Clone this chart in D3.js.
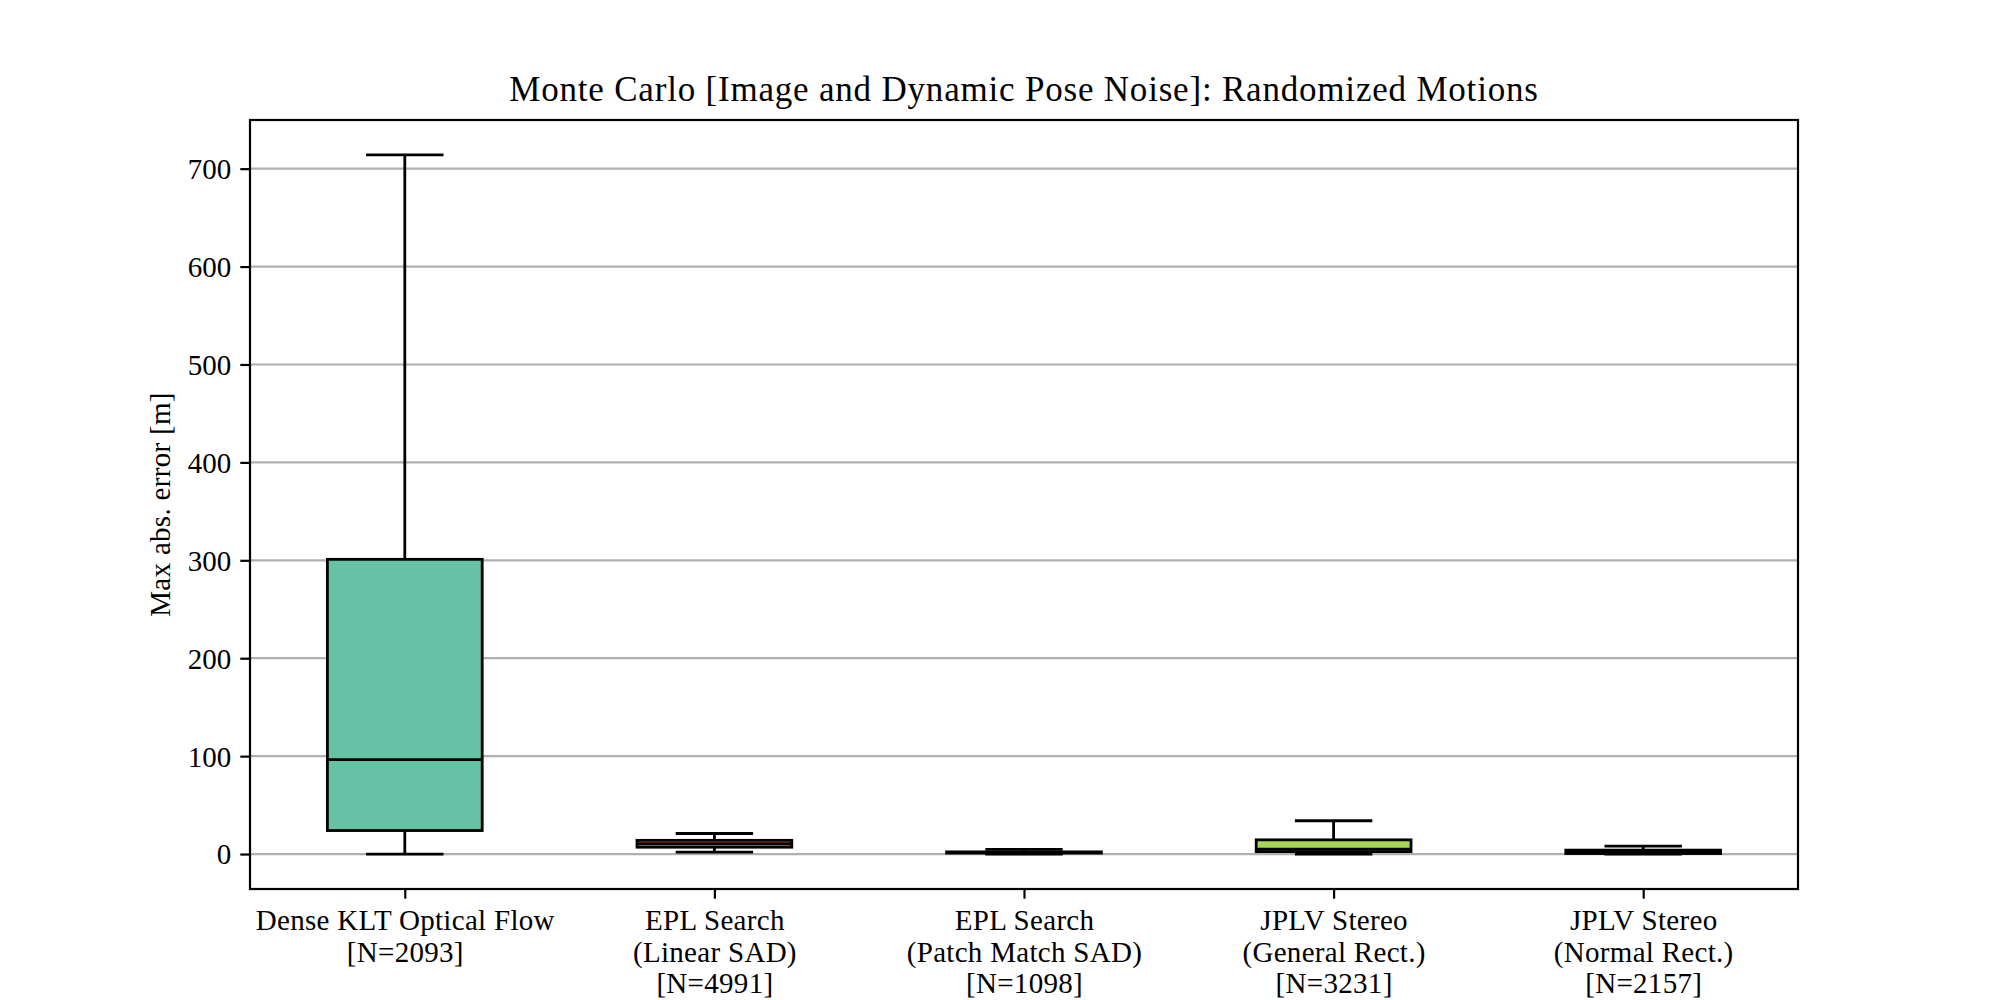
<!DOCTYPE html>
<html>
<head>
<meta charset="utf-8">
<script src="https://cdn.jsdelivr.net/npm/d3@7"></script>
<style>
  html, body { margin: 0; padding: 0; background: #fff; }
  svg { display: block; }
  text { font-family: "Liberation Serif", "DejaVu Serif", serif; fill: #000; }
</style>
</head>
<body>
<svg id="chart" width="2000" height="1000"></svg>
<script>
// ---- data ----
const categories = [
  ["Dense KLT Optical Flow", "[N=2093]"],
  ["EPL Search", "(Linear SAD)", "[N=4991]"],
  ["EPL Search", "(Patch Match SAD)", "[N=1098]"],
  ["JPLV Stereo", "(General Rect.)", "[N=3231]"],
  ["JPLV Stereo", "(Normal Rect.)", "[N=2157]"]
];
const whiskerLow  = [0,    2,    0,   0,    0];
const q1          = [24,   7,    1,   2.5,  0.5];
const median      = [96.5, 10.5, 1.5, 5,    2];
const q3          = [301,  14,   2.2, 14.5, 4];
const whiskerHigh = [714,  21,   4.8, 34,   8];
const boxColors   = ["#66c2a5", "#fc8d62", "#8da0cb", "#a6d854", "#e78ac3"];
const yTicks      = [0, 100, 200, 300, 400, 500, 600, 700];
const title       = "Monte Carlo [Image and Dynamic Pose Noise]: Randomized Motions";
const yLabel      = "Max abs. error [m]";

// ---- layout ----
const L = 250, R = 1798, T = 120, B = 889;
const svg = d3.select("#chart");

const ids = categories.map((c, i) => i);
const x = d3.scalePoint().domain(ids).range([L, R]).padding(0.5);
const step = x.step();
const boxW = step * 0.5;
const capW = boxW * 0.5;

const yMin = d3.min(whiskerLow), yMax = d3.max(whiskerHigh);
const pad = (yMax - yMin) * 0.05;
const y = d3.scaleLinear().domain([yMin - pad, yMax + pad]).range([B, T]);

// grid
svg.append("g").selectAll("line").data(yTicks).join("line")
  .attr("x1", L).attr("x2", R)
  .attr("y1", d => y(d)).attr("y2", d => y(d))
  .attr("stroke", "#b0b0b0").attr("stroke-width", 2.2);

// boxes
const lw = 2.8;
const g = svg.append("g");
ids.forEach(i => {
  const cx = x(i);
  g.append("line").attr("x1", cx).attr("x2", cx)
    .attr("y1", y(q3[i])).attr("y2", y(whiskerHigh[i]))
    .attr("stroke", "#000").attr("stroke-width", lw);
  g.append("line").attr("x1", cx).attr("x2", cx)
    .attr("y1", y(q1[i])).attr("y2", y(whiskerLow[i]))
    .attr("stroke", "#000").attr("stroke-width", lw);
  [whiskerHigh[i], whiskerLow[i]].forEach(v => {
    g.append("line").attr("x1", cx - capW / 2).attr("x2", cx + capW / 2)
      .attr("y1", y(v)).attr("y2", y(v))
      .attr("stroke", "#000").attr("stroke-width", lw);
  });
  g.append("rect")
    .attr("x", cx - boxW / 2).attr("width", boxW)
    .attr("y", y(q3[i])).attr("height", Math.max(0, y(q1[i]) - y(q3[i])))
    .attr("fill", boxColors[i]).attr("stroke", "#000").attr("stroke-width", lw);
  g.append("line").attr("x1", cx - boxW / 2).attr("x2", cx + boxW / 2)
    .attr("y1", y(median[i])).attr("y2", y(median[i]))
    .attr("stroke", "#000").attr("stroke-width", lw);
});

// axes
const yAxis = d3.axisLeft(y).tickValues(yTicks).tickSize(9.7).tickPadding(9).tickFormat(d3.format("d"));
const ya = svg.append("g").attr("transform", `translate(${L},0)`).call(yAxis);
ya.select(".domain").remove();
ya.selectAll(".tick line").attr("stroke", "#000").attr("stroke-width", 2.2);
ya.selectAll(".tick text").attr("font-size", 29).attr("font-family", null).attr("dy", "0.34em");

const xAxis = d3.axisBottom(x).tickSize(9.7).tickFormat(() => "");
const xa = svg.append("g").attr("transform", `translate(0,${B})`).call(xAxis);
xa.select(".domain").remove();
xa.selectAll(".tick line").attr("stroke", "#000").attr("stroke-width", 2.2);
xa.selectAll(".tick").each(function(d) {
  const t = d3.select(this).append("text")
    .attr("text-anchor", "middle").attr("font-size", 29).attr("font-family", null)
    .attr("letter-spacing", 0.3);
  categories[d].forEach((line, k) => {
    t.append("tspan").attr("x", 0).attr("y", 41 + k * 31.5).text(line);
  });
});

// frame
svg.append("rect").attr("x", L).attr("y", T).attr("width", R - L).attr("height", B - T)
  .attr("fill", "none").attr("stroke", "#000").attr("stroke-width", 2.2);

// title
svg.append("text").attr("x", (L + R) / 2).attr("y", 101)
  .attr("text-anchor", "middle").attr("font-size", 35).attr("letter-spacing", 0.8).text(title);

// y label
svg.append("text")
  .attr("transform", `translate(170,${(T + B) / 2}) rotate(-90)`)
  .attr("text-anchor", "middle").attr("font-size", 29).attr("letter-spacing", 0.3).text(yLabel);
</script>
</body>
</html>
